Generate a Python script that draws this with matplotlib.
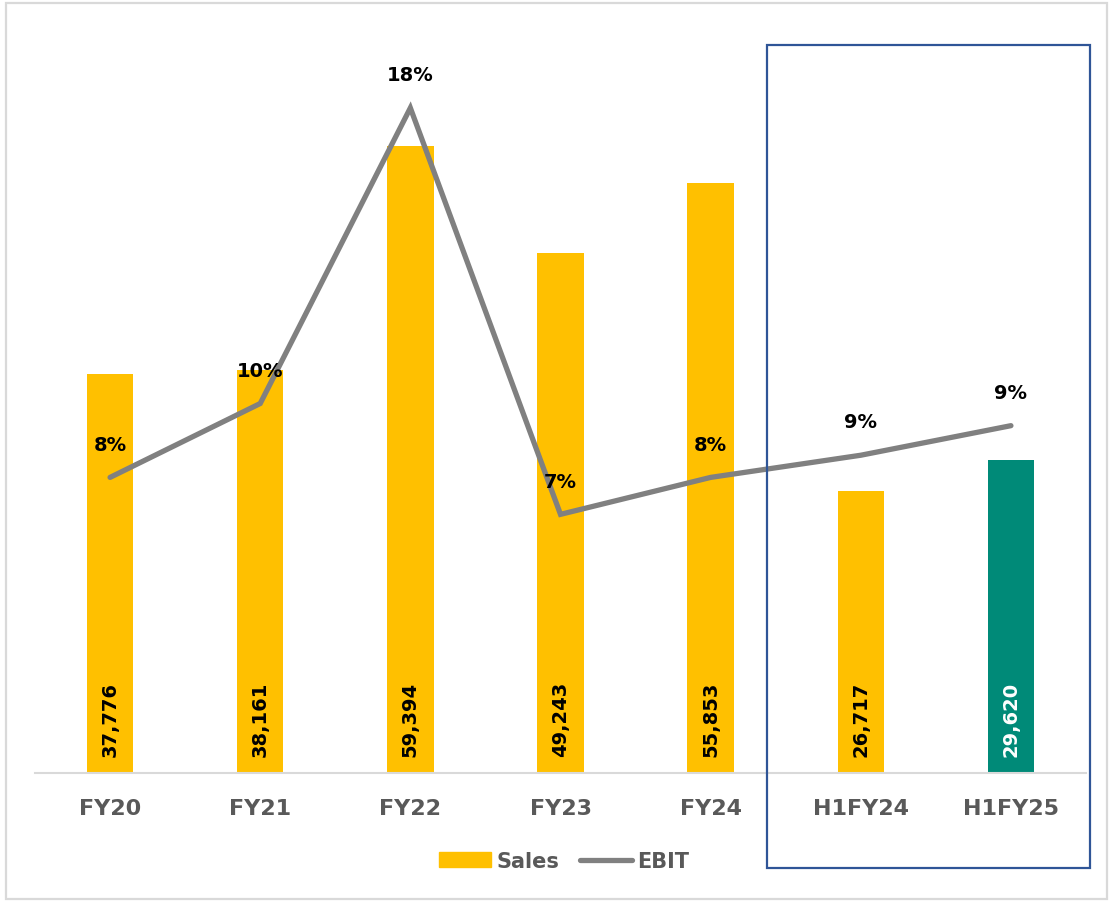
import matplotlib.pyplot as plt
from matplotlib.patches import Rectangle, Patch
from matplotlib.lines import Line2D

periods = ['FY20', 'FY21', 'FY22', 'FY23', 'FY24', 'H1FY24', 'H1FY25']
sales = [37776, 38161, 59394, 49243, 55853, 26717, 29620]
ebit_pct = [8.0, 10.0, 18.0, 7.0, 8.0, 8.6, 9.4]

yellow = '#FFC000'
teal = '#008A78'
grey_line = '#808080'
grey_text = '#595959'

bar_colors = [yellow] * 6 + [teal]
label_colors = ['black'] * 6 + ['white']

fig = plt.figure(figsize=(11.12, 9.04), dpi=100)
ax = fig.add_axes([35 / 1112, 130 / 904, 1051 / 1112, 739 / 904])
ax2 = ax.twinx()

x = list(range(len(periods)))
ax.bar(x, sales, width=0.31, color=bar_colors, zorder=2)
ax.set_xlim(-0.5, 6.5)
ax.set_ylim(0, 70000)

# sales values written upright at the foot of each bar
for xi, v, c in zip(x, sales, label_colors):
    ax.annotate(f'{v:,}', (xi, 0), xytext=(0, 12), textcoords='offset points',
                rotation=90, ha='center', va='bottom', fontsize=14,
                fontweight='bold', color=c)

ax2.plot(x, ebit_pct, color=grey_line, linewidth=3.8, solid_capstyle='round',
         solid_joinstyle='miter')
ax2.set_ylim(0, 20)
for xi, v in zip(x, ebit_pct):
    ax2.annotate(f'{v:.0f}%', (xi, v), xytext=(0, 24), textcoords='offset points',
                 ha='center', va='center', fontsize=14, fontweight='bold',
                 color='black')

for a in (ax, ax2):
    for s in ('top', 'left', 'right'):
        a.spines[s].set_visible(False)
    a.set_yticks([])
ax2.spines['bottom'].set_visible(False)
ax.spines['bottom'].set_color('#D9D9D9')
ax.spines['bottom'].set_linewidth(1.5)

ax.set_xticks(x)
ax.set_xticklabels(periods, fontsize=16, fontweight='bold', color=grey_text)
ax.tick_params(axis='x', length=0, pad=18)

handles = [Patch(color=yellow), Line2D([0], [0], color=grey_line, linewidth=3.8,
                                       solid_capstyle='round')]
fig.legend(handles, ['Sales', 'EBIT'], loc='center', bbox_to_anchor=(564 / 1112, 1 - 862 / 904),
           ncol=2, frameon=False, handlelength=2.5, handletextpad=0.25,
           columnspacing=1.0, prop={'size': 15, 'weight': 'bold'}, labelcolor=grey_text)

# half-year box and outer frame
fig.patches.append(Rectangle((767 / 1112, 1 - 869 / 904), 323 / 1112, 823 / 904,
                             transform=fig.transFigure, fill=False,
                             edgecolor='#2F5597', linewidth=1.6))
fig.patches.append(Rectangle((6 / 1112, 4 / 904), 1101 / 1112, 896 / 904,
                             transform=fig.transFigure, fill=False,
                             edgecolor='#D9D9D9', linewidth=1.6))

fig.savefig('out.png', dpi=100)
